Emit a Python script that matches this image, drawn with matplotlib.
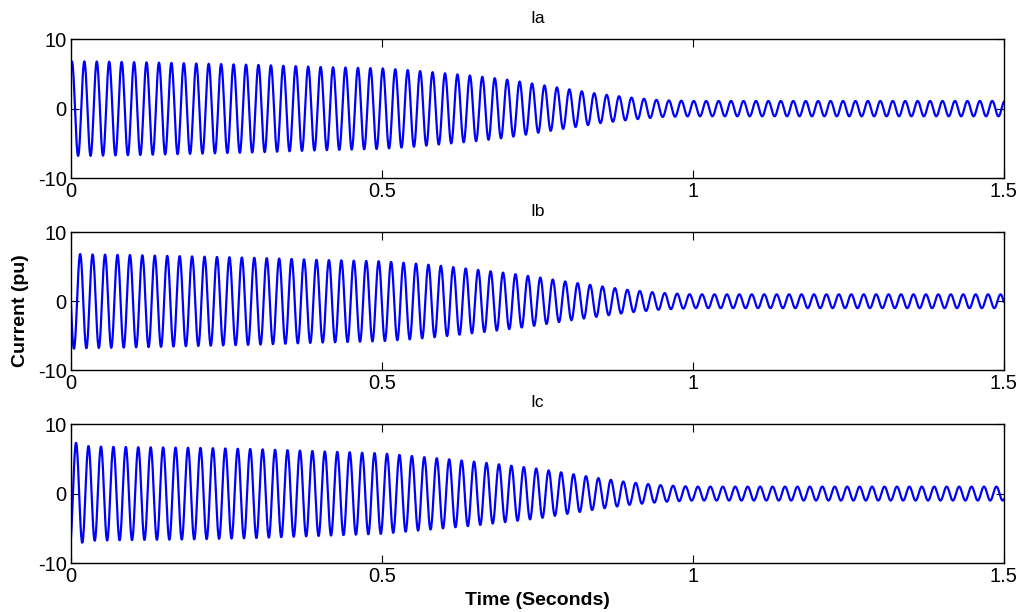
### IMPORTS
import numpy as np
import matplotlib
matplotlib.use("Agg")
import matplotlib.pyplot as plt

### DATA
freq = 50.0  # Hz, one cycle every 0.02 s
peak_time = {"Ia": 0.0015, "Ib": 0.0148, "Ic": 0.0082}  # time of first positive peak [s]

# envelope (peak amplitude in pu) at these times
env_t = [0.0, 0.03, 0.1, 0.2, 0.3, 0.4, 0.5, 0.55, 0.6, 0.65, 0.7, 0.75, 0.8, 0.85, 0.9, 0.95, 1.0, 1.5]
env_a = [6.8, 6.8, 6.7, 6.5, 6.3, 6.0, 5.8, 5.5, 5.1, 4.7, 4.2, 3.5, 2.8, 2.1, 1.6, 1.2, 1.1, 1.1]
env_b = [6.9, 6.8, 6.7, 6.5, 6.3, 6.0, 5.8, 5.5, 5.1, 4.6, 4.1, 3.5, 2.8, 2.2, 1.6, 1.2, 1.0, 1.0]
env_c = [7.5, 6.8, 6.7, 6.6, 6.4, 6.1, 5.8, 5.4, 5.0, 4.6, 4.1, 3.6, 2.9, 2.2, 1.6, 1.2, 1.0, 1.0]

titles = ["Ia", "Ib", "Ic"]
envelopes = [env_a, env_b, env_c]
xticks = [0, 0.5, 1, 1.5]
xticklabels = ["0", "0.5", "1", "1.5"]
yticks = [-10, 0, 10]

### PLOT
plt.rcParams["font.family"] = ["Liberation Sans", "DejaVu Sans"]
plt.rcParams["axes.unicode_minus"] = False  # plain hyphen like the original
fig = plt.figure(figsize=(10.33, 6.12), dpi=100)

# axes boxes [left, bottom, width, height] in figure fractions
boxes = [
    [0.0687, 0.709, 0.903, 0.227],
    [0.0687, 0.395, 0.903, 0.2255],
    [0.0687, 0.080, 0.903, 0.227],
]

t = np.arange(0, 1.5 + 1e-9, 0.0005)

for box, name, env in zip(boxes, titles, envelopes):
    ax = fig.add_axes(box)
    amp = np.interp(t, env_t, env)
    current = amp * np.cos(2 * np.pi * freq * (t - peak_time[name]))
    ax.plot(t, current, color=(0, 0, 1), lw=1.6)

    ax.set_xlim(0, 1.5)
    ax.set_ylim(-10, 10)
    ax.set_xticks(xticks)
    ax.set_xticklabels(xticklabels)
    ax.set_yticks(yticks)
    ax.tick_params(direction="in", length=6, width=0.8, labelsize=14.5,
                   top=True, right=True)
    ax.tick_params(axis="x", pad=3)
    ax.tick_params(axis="y", pad=3)
    for sp in ax.spines.values():
        sp.set_linewidth(1.0)
    ax.set_title(name, fontsize=12.5, pad=12)

fig.text(0.020, 0.492, "Current (pu)", rotation=90, ha="center", va="center",
         fontsize=14, fontweight="bold")
fig.text(0.520, 0.018, "Time (Seconds)", ha="center", va="center",
         fontsize=14, fontweight="bold")

plt.savefig("out.png", dpi=100)
